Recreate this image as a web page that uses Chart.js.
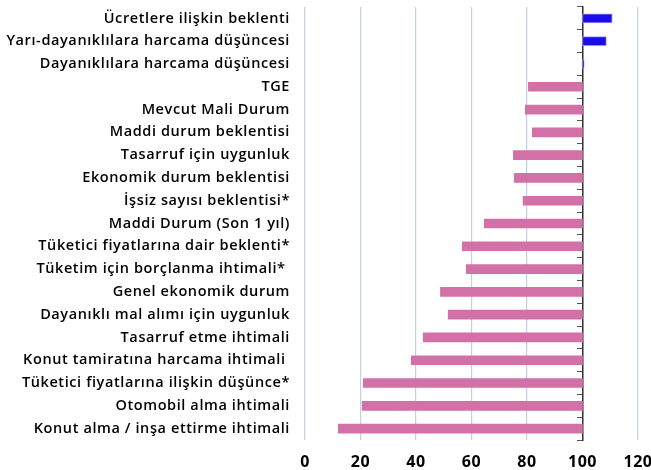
<!DOCTYPE html>
<html>
<head>
<meta charset="utf-8">
<script src="https://cdn.jsdelivr.net/npm/chart.js@4/dist/chart.umd.min.js"></script>
<style>
  html, body { margin: 0; padding: 0; background: #fff; }
  #wrap { width: 651px; height: 470px; position: relative; }
</style>
</head>
<body>
<div id="wrap"><canvas id="c"></canvas></div>
<script>
const categories = [
  "Ücretlere ilişkin beklenti",
  "Yarı-dayanıklılara harcama düşüncesi",
  "Dayanıklılara harcama düşüncesi",
  "TGE",
  "Mevcut Mali Durum",
  "Maddi durum beklentisi",
  "Tasarruf için uygunluk",
  "Ekonomik durum beklentisi",
  "İşsiz sayısı beklentisi*",
  "Maddi Durum (Son 1 yıl)",
  "Tüketici fiyatlarına dair beklenti*",
  "Tüketim için borçlanma ihtimali* ",
  "Genel ekonomik durum",
  "Dayanıklı mal alımı için uygunluk",
  "Tasarruf etme ihtimali",
  "Konut tamiratına harcama ihtimali ",
  "Tüketici fiyatlarına ilişkin düşünce*",
  "Otomobil alma ihtimali",
  "Konut alma / inşa ettirme ihtimali"
];
const values = [110.7, 108.6, 100.6, 80.5, 79.4, 81.9, 75.1, 75.4, 78.6, 64.6, 56.7, 58.1, 48.8, 51.6, 42.6, 38.3, 21.0, 20.6, 12.0];
const baseValue = 100;
const xTicks = [0, 20, 40, 60, 80, 100, 120];

const upColor = '#1a0ceb';
const upBorder = '#9a92f2';
const downColor = '#d171a7';

const barData = values.map(v => [Math.min(v, baseValue), Math.max(v, baseValue)]);

const spacingPlugin = {
  id: 'spacing',
  beforeDraw(chart) { chart.ctx.letterSpacing = '0.6px'; }
};

new Chart(document.getElementById('c'), {
  type: 'bar',
  data: {
    labels: categories,
    datasets: [{
      data: barData,
      backgroundColor: values.map(v => v > baseValue ? upColor : downColor),
      borderColor: values.map(v => v > baseValue ? upBorder : downColor),
      borderWidth: values.map(v => v > baseValue ? 1 : 0),
      borderSkipped: false,
      barThickness: 9,
      yAxisID: 'y'
    }]
  },
  plugins: [spacingPlugin],
  options: {
    indexAxis: 'y',
    responsive: true,
    maintainAspectRatio: false,
    animation: false,
    layout: { padding: { top: 7, right: 13, left: 0, bottom: 0 } },
    plugins: { legend: { display: false }, tooltip: { enabled: false } },
    scales: {
      x: {
        min: 0, max: 120,
        afterBuildTicks: s => { s.ticks = xTicks.map(v => ({ value: v })); },
        afterFit: s => { s.height = 30; s.paddingLeft = 0; s.paddingRight = 0; },
        grid: { color: '#c6cee3', lineWidth: 1.2, drawTicks: false },
        border: { display: false },
        ticks: { padding: 13, color: '#000', font: { family: 'Open Sans', size: 16, weight: 'bold' } }
      },
      y: {
        position: 'left',
        afterFit: s => { s.width = 305; s.paddingTop = 0; s.paddingBottom = 0; },
        grid: { display: false, drawTicks: false },
        border: { display: false },
        ticks: { padding: 15, color: '#000', autoSkip: false, font: { family: 'Open Sans', size: 14.5, weight: '600' } }
      },
      y2: {
        type: 'category',
        position: { x: baseValue },
        offset: true,
        afterFit: s => { s.paddingTop = 0; s.paddingBottom = 0; },
        grid: { display: true, drawOnChartArea: false, drawTicks: true, tickLength: 5, offset: true, color: '#555' },
        border: { display: true, color: '#333', width: 1.5 },
        ticks: { display: false }
      }
    }
  }
});
</script>
</body>
</html>
